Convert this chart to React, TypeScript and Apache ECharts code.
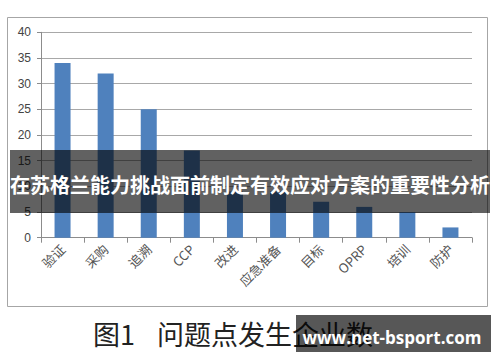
import React, { useEffect, useRef } from "react";
import * as echarts from "echarts";

const categories = ["验证", "采购", "追溯", "CCP", "改进", "应急准备", "目标", "OPRP", "培训", "防护"];
const counts = [34, 32, 25, 17, 9, 9, 7, 6, 5, 2];
const yMin = 0;
const yMax = 40;
const yInterval = 5;
const bannerText = "在苏格兰能力挑战面前制定有效应对方案的重要性分析";
const captionNum = "图1";
const captionText = "问题点发生企业数";
const watermark = "www.net-bsport.com";

export default function App() {
  const ref = useRef<HTMLDivElement>(null);
  useEffect(() => {
    if (!ref.current) return;
    const chart = echarts.init(ref.current, null, { renderer: "svg" });
    const cjk = '"Noto Sans CJK SC", "Noto Sans", sans-serif';
    chart.setOption({
      animation: false,
      backgroundColor: "#ffffff",
      grid: { left: 41, right: 28, top: 32.3, bottom: 124.3, containLabel: false },
      xAxis: {
        type: "category",
        data: categories,
        axisLine: { show: true, lineStyle: { color: "#8c8c8c", width: 1 } },
        axisTick: { show: true, length: 5, lineStyle: { color: "#8c8c8c" } },
        axisLabel: {
          rotate: 45,
          margin: 9,
          fontSize: 13,
          color: "#555",
          fontFamily: cjk,
          interval: 0,
        },
      },
      yAxis: {
        type: "value",
        min: yMin,
        max: yMax,
        interval: yInterval,
        axisLine: { show: true, lineStyle: { color: "#8c8c8c", width: 1 } },
        axisTick: { show: true, length: 4, lineStyle: { color: "#8c8c8c" } },
        axisLabel: { fontSize: 12, color: "#444", margin: 10, fontFamily: "Liberation Sans, Arial, sans-serif" },
        splitLine: { show: true, lineStyle: { color: "#a8a8a8", width: 1 } },
      },
      series: [
        {
          type: "bar",
          data: counts,
          barWidth: 16,
          itemStyle: { color: "#4f81bd" },
        },
      ],
      graphic: [
        {
          type: "rect",
          z: 1,
          shape: { x: 7.5, y: 17.5, width: 480, height: 289 },
          style: { fill: "none", stroke: "#a6a6a6", lineWidth: 1 },
        },
        {
          type: "rect",
          z: 100,
          shape: { x: 10, y: 150, width: 480, height: 63 },
          style: { fill: "rgba(0,0,0,0.62)" },
        },
        {
          type: "text",
          z: 101,
          x: 250,
          y: 184,
          style: {
            text: bannerText,
            fill: "#ffffff",
            font: 'bold 20px "Noto Sans CJK SC", sans-serif',
            textAlign: "center",
            textVerticalAlign: "middle",
          },
        },
        {
          type: "text",
          z: 100,
          x: 93,
          y: 333,
          style: {
            text: captionNum,
            fill: "#222",
            font: '27px "Noto Sans CJK SC", serif',
            textAlign: "left",
            textVerticalAlign: "middle",
          },
        },
        {
          type: "text",
          z: 100,
          x: 157,
          y: 333,
          style: {
            text: captionText,
            fill: "#222",
            font: '27px "Noto Sans CJK SC", serif',
            textAlign: "left",
            textVerticalAlign: "middle",
          },
        },
        {
          type: "rect",
          z: 110,
          shape: { x: 296, y: 315, width: 195, height: 37 },
          style: { fill: "rgba(0,0,0,0.66)" },
        },
        {
          type: "text",
          z: 111,
          x: 392,
          y: 337,
          style: {
            text: watermark,
            fill: "#ffffff",
            font: 'bold 17px "Open Sans", "DejaVu Sans", sans-serif',
            textAlign: "center",
            textVerticalAlign: "middle",
          },
        },
      ],
    });
    return () => chart.dispose();
  }, []);
  return (
    <div
      ref={ref}
      style={{ position: "fixed", left: 0, top: 0, width: 500, height: 362 }}
    />
  );
}
